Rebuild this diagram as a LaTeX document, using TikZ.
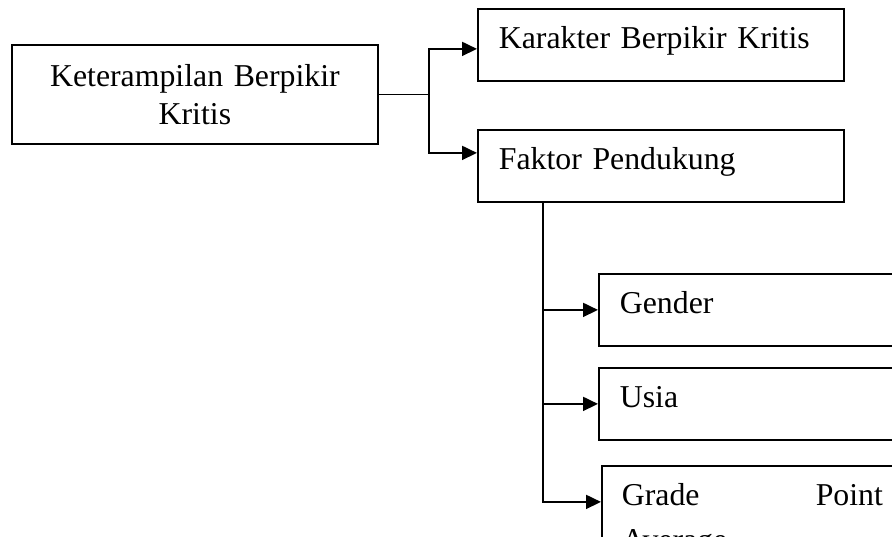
\documentclass[tikz,border=0pt]{standalone}
\usepackage{fontspec}
\setmainfont{Liberation Serif}
\usepackage{tikz}
\usetikzlibrary{arrows.meta, positioning, calc}
\tikzset{
  mainbox/.style={draw, line width=1.8pt, anchor=north west, minimum width=366pt, minimum height=99pt, text width=340pt, inner xsep=13pt, align=center},
  subbox/.style={draw, line width=1.8pt, anchor=north west, inner xsep=21pt, inner ysep=0pt, text height=40pt, text depth=32pt, align=left},
  link/.style={line width=1.8pt},
  linkarrow/.style={link, -{Triangle[length=15pt, width=14pt]}}
}
\begin{document}
\begin{tikzpicture}[x=1pt, y=-1pt, font=\fontsize{31.8}{38}\selectfont]
  \useasboundingbox (0,0) rectangle (892,536);
  \clip (0,0) rectangle (892,536);
  \node[mainbox] (skill) at (11,44) {Keterampilan Berpikir\\Kritis};
  \node[subbox, text width=324pt] (character) at (477,8) {Karakter Berpikir Kritis};
  \node[subbox, text width=324pt] (support) at (477,129) {Faktor Pendukung};
  \node[subbox, text width=261pt] (gender) at (598,273) {Gender};
  \node[subbox, text width=261pt] (age) at (598,367) {Usia};
  \node[subbox, text width=261pt, inner xsep=20pt] (gpa) at (601,465) {Grade\hfill Point\\[7pt]Average};
  \coordinate (fork) at ($(skill.east)+(50,0)$);
  \coordinate (trunk) at ($(support.south west)+(66,0)$);
  \draw[link] (skill.east) -- (fork);
  \draw[linkarrow] (fork) |- ([yshift=-4pt]character.west);
  \draw[linkarrow] (fork) |- ([yshift=13pt]support.west);
  \draw[linkarrow] (trunk) |- (gender.west);
  \draw[linkarrow] (trunk) |- (age.west);
  \draw[linkarrow] (trunk) |- (gpa.west);
\end{tikzpicture}
\end{document}
